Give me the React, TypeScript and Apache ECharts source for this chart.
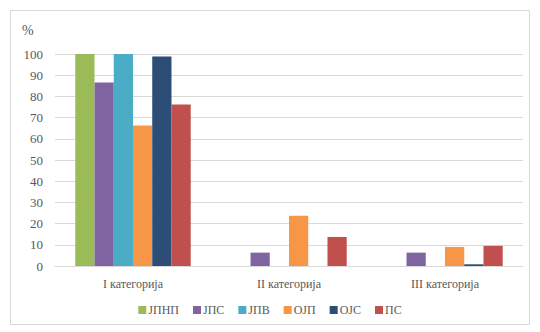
import React, { useEffect, useRef } from "react";
import * as echarts from "echarts";

const categories = ["I категорија", "II категорија", "III категорија"];
const seriesNames = ["ЈПНП", "ЈПС", "ЈПВ", "ОЈП", "ОЈС", "ПС"];
const jpnp = [100, 0, 0];
const jps = [86.5, 6.3, 6.3];
const jpv = [100, 0, 0];
const ojp = [66.3, 23.7, 9.0];
const ojs = [98.8, 0, 0.8];
const ps = [76.2, 13.7, 9.5];
const colors = ["#9BBB59", "#8064A2", "#4BACC6", "#F79646", "#2C4D75", "#C0504D"];
const yTicks = [0, 10, 20, 30, 40, 50, 60, 70, 80, 90, 100];

const FONT = "'Liberation Serif', 'Times New Roman', serif";

export default function App() {
  const ref = useRef<HTMLDivElement>(null);
  useEffect(() => {
    if (!ref.current) return;
    const chart = echarts.init(ref.current, null, { renderer: "svg" });
    const data = [jpnp, jps, jpv, ojp, ojs, ps];
    chart.setOption({
      animation: false,
      textStyle: { fontFamily: FONT },
      graphic: [
        {
          type: "rect",
          shape: { x: 10.5, y: 10.5, width: 519, height: 314 },
          style: { fill: "none", stroke: "#D9D9D9", lineWidth: 1 },
        },
        {
          type: "text",
          left: 22,
          top: 23,
          style: { text: "%", fill: "#595959", fontSize: 14, fontFamily: FONT },
        },
      ],
      legend: {
        data: seriesNames,
        bottom: 11,
        left: "center",
        itemWidth: 8,
        itemHeight: 8,
        itemGap: 14,
        icon: "rect",
        textStyle: { color: "#595959", fontSize: 12, fontFamily: FONT, padding: [0, 0, 0, -3] },
      },
      grid: { left: 55, right: 17, top: 54, bottom: 66, containLabel: false },
      xAxis: {
        type: "category",
        data: categories,
        axisLine: { lineStyle: { color: "#D9D9D9" } },
        axisTick: { show: false },
        axisLabel: { color: "#595959", fontSize: 12, fontFamily: FONT, margin: 12 },
      },
      yAxis: {
        type: "value",
        min: 0,
        max: 100,
        interval: 10,
        axisLine: { show: false },
        axisTick: { show: false },
        splitLine: { lineStyle: { color: "#D9D9D9" } },
        axisLabel: {
          color: "#595959",
          fontSize: 13,
          fontFamily: FONT,
          margin: 12,
          formatter: (v: number) => (yTicks.includes(v) ? String(v) : ""),
        },
      },
      series: seriesNames.map((n, i) => ({
        name: n,
        type: "bar",
        data: data[i],
        itemStyle: { color: colors[i] },
        barGap: "0%",
        barCategoryGap: "26%",
      })),
    });
    return () => chart.dispose();
  }, []);
  return <div ref={ref} style={{ width: 540, height: 332, position: "absolute", left: 0, top: 0 }} />;
}
